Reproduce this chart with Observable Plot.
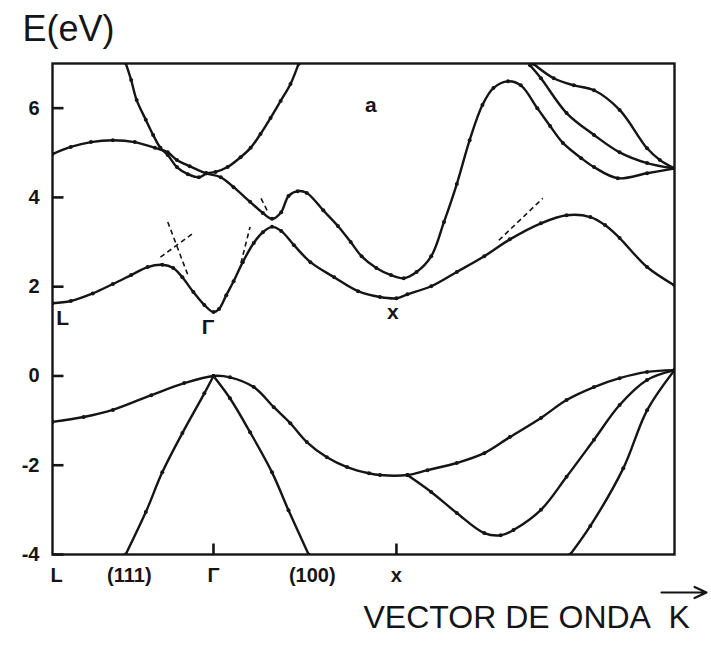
<!DOCTYPE html>
<html>
<head>
<meta charset="utf-8">
<script src="https://cdn.jsdelivr.net/npm/d3@7"></script>
<script src="https://cdn.jsdelivr.net/npm/@observablehq/plot@0.6"></script>
<style>
  body { margin: 0; background: #fff; }
  #chart { width: 711px; height: 646px; }
</style>
</head>
<body>
<div id="chart"></div>
<script>
// Symmetry points along the wave-vector path (k in units of 2π/a)
const kL = 0, kGamma = 0.88, kX = 1.88, kEnd = 3.40;
const eMin = -4, eMax = 7;

// Energy ticks (eV)
const yTicks = [-4, -2, 0, 2, 4, 6];

// Labels under the axis and their positions along k
const bottomLabels = ["(111)", "Γ", "(100)", "x"];
const bottomLabelK = [0.42, kGamma, 1.42, kX];

// Labels inside the diagram
const annoText = ["L", "Γ", "x", "a"];
const annoK = [0.055, 0.85, 1.86, 1.74];
const annoE = [1.30, 1.08, 1.43, 6.07];

// Conduction bands, [k, E]
const cond1 = [[0, 1.63], [0.10, 1.68], [0.22, 1.85], [0.33, 2.06], [0.43, 2.26], [0.52, 2.44],
  [0.60, 2.49], [0.66, 2.42], [0.71, 2.21], [0.77, 1.88], [0.83, 1.59], [0.88, 1.43], [0.91, 1.50],
  [0.95, 1.81], [0.99, 2.12], [1.04, 2.55], [1.10, 2.98], [1.15, 3.22], [1.20, 3.34], [1.25, 3.25],
  [1.32, 2.93], [1.41, 2.55], [1.54, 2.21], [1.67, 1.90], [1.79, 1.77], [1.88, 1.74], [1.94, 1.83],
  [2.07, 2.01], [2.21, 2.33], [2.36, 2.68], [2.50, 3.06], [2.67, 3.42], [2.81, 3.60], [2.94, 3.56],
  [3.02, 3.38], [3.10, 3.09], [3.25, 2.44], [3.40, 2.03]];
const cond2 = [[0, 4.97], [0.10, 5.13], [0.21, 5.24], [0.33, 5.28], [0.45, 5.24], [0.56, 5.11],
  [0.63, 5.01], [0.68, 4.84], [0.75, 4.70], [0.84, 4.54], [0.92, 4.45], [0.99, 4.23], [1.08, 3.90],
  [1.15, 3.65], [1.20, 3.52], [1.25, 3.67], [1.29, 4.03], [1.34, 4.14], [1.39, 4.10], [1.48, 3.71],
  [1.56, 3.36], [1.63, 3.00], [1.69, 2.68], [1.77, 2.42], [1.85, 2.26], [1.92, 2.19], [1.99, 2.33],
  [2.07, 2.68], [2.14, 3.45], [2.21, 4.30], [2.28, 5.28], [2.35, 6.07], [2.41, 6.45], [2.49, 6.60],
  [2.56, 6.51], [2.65, 6.00], [2.72, 5.60], [2.79, 5.22], [2.89, 4.88], [2.96, 4.68], [3.09, 4.43],
  [3.25, 4.54], [3.40, 4.65]];
const cond3 = [[0.40, 7.01], [0.43, 6.63], [0.46, 6.18], [0.51, 5.74], [0.55, 5.40], [0.59, 5.11],
  [0.63, 4.95], [0.68, 4.68], [0.74, 4.52], [0.80, 4.45], [0.84, 4.54]];
const cond4 = [[0.84, 4.54], [0.891, 4.57], [0.957, 4.68], [1.028, 4.90], [1.083, 5.11], [1.137, 5.42],
  [1.192, 5.78], [1.247, 6.16], [1.301, 6.54], [1.345, 6.99]];
const cond5 = [[2.61, 6.96], [2.67, 6.67], [2.81, 5.89], [2.96, 5.40], [3.10, 5.01], [3.25, 4.77], [3.40, 4.65]];
const cond6 = [[2.63, 6.99], [2.74, 6.67], [2.85, 6.51], [2.96, 6.40], [3.10, 5.96], [3.25, 5.10],
  [3.32, 4.84], [3.40, 4.65]];

// Valence bands, [k, E]
const val1 = [[0, -1.03], [0.17, -0.92], [0.33, -0.76], [0.54, -0.43], [0.72, -0.16], [0.88, 0],
  [0.97, -0.03], [1.10, -0.25], [1.21, -0.70], [1.30, -1.06], [1.39, -1.48], [1.50, -1.82],
  [1.61, -2.04], [1.73, -2.18], [1.79, -2.22], [1.94, -2.22], [2.05, -2.11], [2.21, -1.95],
  [2.36, -1.73], [2.50, -1.37], [2.67, -0.94], [2.81, -0.54], [2.96, -0.25], [3.10, -0.05],
  [3.25, 0.09], [3.40, 0.13]];
const val2 = [[1.94, -2.22], [2.07, -2.60], [2.21, -3.07], [2.36, -3.52], [2.45, -3.57], [2.52, -3.45],
  [2.67, -3.00], [2.81, -2.26], [2.96, -1.43], [3.10, -0.65], [3.25, -0.09], [3.40, 0.13]];
const val3 = [[2.83, -4.0], [2.94, -3.36], [3.12, -2.07], [3.25, -0.77], [3.40, 0.13]];
const val4 = [[0.40, -4.0], [0.51, -3.05], [0.60, -2.16], [0.71, -1.28], [0.83, -0.39], [0.88, 0]];
const val5 = [[0.88, 0], [0.97, -0.50], [1.08, -1.26], [1.20, -2.16], [1.29, -3.01], [1.40, -4.0]];

// Dashed extrapolations near the anticrossings, [k1, E1, k2, E2]
const dashed = [[0.59, 2.66, 0.77, 3.20], [0.63, 3.45, 0.74, 2.26], [1.03, 2.53, 1.08, 3.34],
  [1.14, 3.98, 1.18, 3.65], [2.44, 3.04, 2.68, 3.98]];

const bands = {cond1, cond2, cond3, cond4, cond5, cond6, val1, val2, val3, val4, val5};
const rows = Object.entries(bands).flatMap(([band, pts]) => pts.map(([k, E]) => ({band, k, E})));
const dashRows = dashed.map(([k1, E1, k2, E2]) => ({k1, E1, k2, E2}));
const annoRows = annoText.map((t, i) => ({t, k: annoK[i], E: annoE[i]}));
const bottomRows = bottomLabels.map((t, i) => ({t, k: bottomLabelK[i]}));

const font = "'Liberation Sans', Arial, Helvetica, sans-serif";
const ink = "#151515";

const W = 711, H = 646, mL = 52, mR = 37, mT = 63, mB = 92;

// pixel <-> data helpers for the short inward tick marks and the title arrow
const pxPerK = (W - mL - mR) / (kEnd - kL);
const pxPerE = (H - mT - mB) / (eMax - eMin);
const tickLen = 11;
const yTickRows = yTicks.map(E => ({k1: kL, k2: kL + tickLen / pxPerK, E}));
const xTickRows = [kGamma, kX].map(k => ({k, E1: eMin, E2: eMin + tickLen / pxPerE}));
const kAt = px => kL + (px - mL) / pxPerK;
const eAt = py => eMax - (py - mT) / pxPerE;

const svg = Plot.plot({
  width: W,
  height: H,
  marginLeft: mL,
  marginRight: mR,
  marginTop: mT,
  marginBottom: mB,
  style: {fontFamily: font, fontSize: "20px", color: ink, background: "#fff", overflow: "visible"},
  x: {domain: [kL, kEnd], axis: null},
  y: {domain: [eMin, eMax], axis: null},
  marks: [
    Plot.line(rows, {x: "k", y: "E", z: "band", curve: "catmull-rom", stroke: ink, strokeWidth: 2.4, clip: true}),
    Plot.dot(rows, {x: "k", y: "E", r: 2, fill: ink, clip: true}),
    Plot.link(dashRows, {x1: "k1", y1: "E1", x2: "k2", y2: "E2", stroke: ink, strokeWidth: 1.6, strokeDasharray: "5,3.5"}),
    Plot.frame({stroke: ink, strokeWidth: 2.4}),
    // inward ticks on the energy axis and at Γ and X
    Plot.link(yTickRows, {x1: "k1", x2: "k2", y1: "E", y2: "E", stroke: ink, strokeWidth: 2.6}),
    Plot.link(xTickRows, {x1: "k", x2: "k", y1: "E1", y2: "E2", stroke: ink, strokeWidth: 2.6}),
    Plot.axisY({ticks: yTicks, tickSize: 0, tickPadding: 13, tickFormat: d => String(d),
      fontSize: 20, fontWeight: "bold", label: null}),
    Plot.text([kL], {x: d => d, text: () => "L", frameAnchor: "bottom", dy: 27, dx: 4,
      fontSize: 20, fontWeight: "bold"}),
    Plot.text(bottomRows, {x: "k", text: "t", frameAnchor: "bottom", dy: 27, fontSize: 20, fontWeight: "bold"}),
    Plot.text(annoRows, {x: "k", y: "E", text: "t", fontSize: 21, fontWeight: "bold"}),
    Plot.text(["E(eV)"], {text: d => d, frameAnchor: "top-left", dx: -30, dy: -23,
      textAnchor: "start", lineAnchor: "bottom", fontSize: 36}),
    Plot.text(["VECTOR DE ONDA"], {text: d => d, frameAnchor: "bottom-left", dx: 311, dy: 73,
      textAnchor: "start", lineAnchor: "bottom", fontSize: 32}),
    Plot.text(["K"], {text: d => d, frameAnchor: "bottom-left", dx: 616, dy: 73,
      textAnchor: "start", lineAnchor: "bottom", fontSize: 32}),
    // vector arrow over the K
    Plot.arrow([{k1: kAt(661), k2: kAt(706), E: eAt(592)}], {x1: "k1", x2: "k2", y1: "E", y2: "E",
      stroke: ink, strokeWidth: 2.2, headLength: 9, headAngle: 50})
  ]
});

document.getElementById("chart").appendChild(svg);
</script>
</body>
</html>
